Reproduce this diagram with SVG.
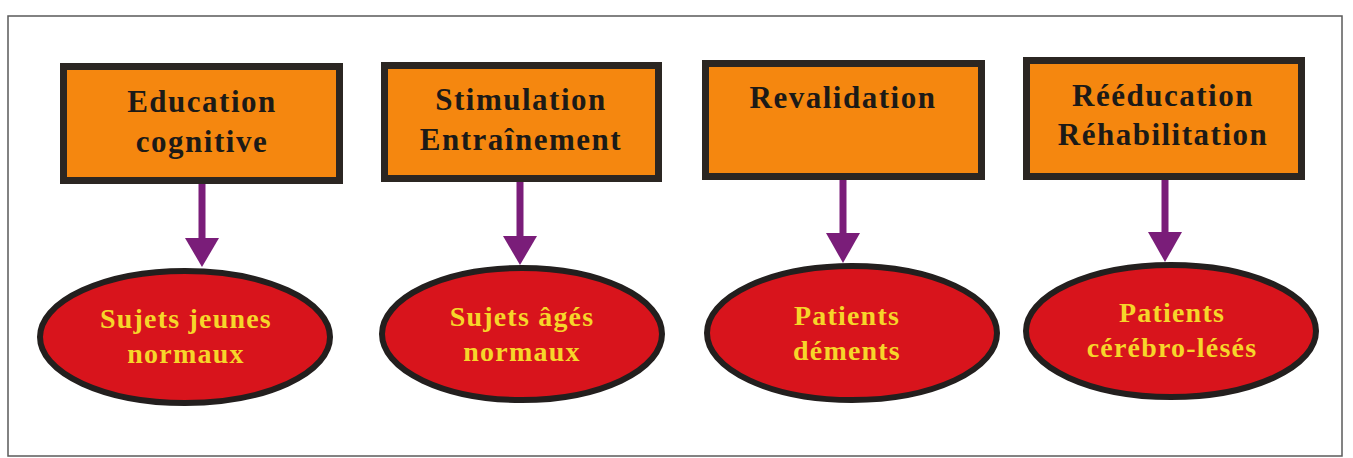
<svg xmlns="http://www.w3.org/2000/svg" width="1353" height="458" viewBox="0 0 1353 458">
<defs>
<style>
.frame{fill:none;stroke:#5a5a5a;stroke-width:1.5}
.box{fill:#f5870f;stroke:#2b2622;stroke-width:7}
.oval{fill:#d8141c;stroke:#231f1e;stroke-width:6}
.bt{font-family:"Liberation Serif","Times New Roman",serif;font-weight:bold;font-size:31px;fill:#1c1a17;text-anchor:middle;letter-spacing:1.5px}
.ot{font-family:"Liberation Serif","Times New Roman",serif;font-weight:bold;font-size:28px;fill:#f6d62a;text-anchor:middle;letter-spacing:1.2px}
.shaft{stroke:#7a1d79;stroke-width:7;fill:none}
.head{fill:#7a1d79}
</style>
</defs>
<rect class="frame" x="8" y="16" width="1334" height="440"/>
<g id="connectors">
<line class="shaft" x1="202" y1="184" x2="202" y2="240"/><polygon class="head" points="185,238 219,238 202,267"/>
<line class="shaft" x1="520" y1="182" x2="520" y2="238"/><polygon class="head" points="503,236 537,236 520,265"/>
<line class="shaft" x1="843" y1="180" x2="843" y2="235"/><polygon class="head" points="826,233 860,233 843,263"/>
<line class="shaft" x1="1165" y1="180" x2="1165" y2="234"/><polygon class="head" points="1148,232 1182,232 1165,262"/>
</g>
<g id="box1"><rect class="box" x="63.5" y="66.5" width="276" height="114"/><text class="bt" x="202" y="112">Education</text><text class="bt" x="202" y="152">cognitive</text></g>
<g id="box2"><rect class="box" x="384.5" y="65.5" width="274" height="113"/><text class="bt" x="521" y="110">Stimulation</text><text class="bt" x="521" y="150">Entraînement</text></g>
<g id="box3"><rect class="box" x="705.5" y="63.5" width="276" height="113"/><text class="bt" x="843" y="108">Revalidation</text></g>
<g id="box4"><rect class="box" x="1026.5" y="60.5" width="275" height="116"/><text class="bt" x="1163" y="106">Rééducation</text><text class="bt" x="1163" y="145">Réhabilitation</text></g>
<g id="oval1"><ellipse class="oval" cx="185" cy="337" rx="145" ry="66"/><text class="ot" x="186" y="328">Sujets jeunes</text><text class="ot" x="186" y="363">normaux</text></g>
<g id="oval2"><ellipse class="oval" cx="522" cy="334" rx="140" ry="66"/><text class="ot" x="522" y="326">Sujets âgés</text><text class="ot" x="522" y="361">normaux</text></g>
<g id="oval3"><ellipse class="oval" cx="852" cy="333" rx="145" ry="67"/><text class="ot" x="847" y="325">Patients</text><text class="ot" x="847" y="360">déments</text></g>
<g id="oval4"><ellipse class="oval" cx="1171" cy="331" rx="145" ry="66"/><text class="ot" x="1172" y="322">Patients</text><text class="ot" x="1172" y="357">cérébro-lésés</text></g>
</svg>
